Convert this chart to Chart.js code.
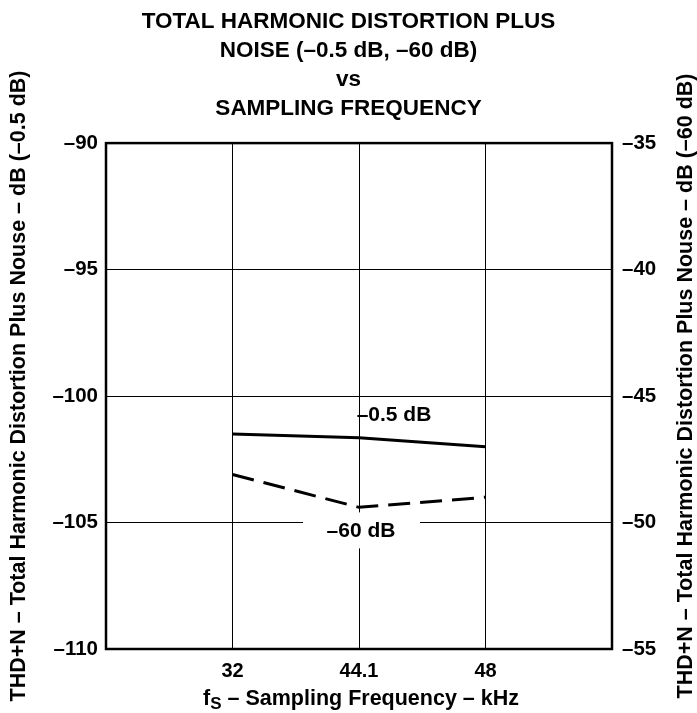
<!DOCTYPE html>
<html lang="en">
<head>
    <meta charset="UTF-8">
    <title>THD+N vs Sampling Frequency</title>
    <script src="https://cdn.jsdelivr.net/npm/chart.js"></script>
    <style>
        body {
            margin: 0;
            background: #ffffff;
        }
        #wrap {
            width: 697px;
            height: 713px;
        }
    </style>
</head>
<body>
    <div id="wrap">
        <canvas id="thdChart" width="697" height="713"></canvas>
    </div>

    <script>
        // sampling frequencies (kHz), drawn at equal spacing
        const freqs = ['32', '44.1', '48'];
        // -0.5 dB signal, left axis
        const thdHigh = [-101.5, -101.65, -102.0];
        // -60 dB signal, right axis
        const thdLow = [-48.1, -49.4, -49.0];

        const leftTicks = [-90, -95, -100, -105, -110];
        const rightTicks = [-35, -40, -45, -50, -55];

        const FONT = '"Liberation Sans", Arial, Helvetica, sans-serif';

        // blank slots at both ends give the empty margins left/right of the data
        const labels = ['', ...freqs, ''];
        const pad = arr => [null, ...arr, null];

        // frame, axis titles and curve labels
        const decorations = {
            id: 'decorations',
            afterDatasetsDraw(chart) {
                const { ctx, chartArea: a, scales } = chart;
                const x = scales.x, y = scales.y, y2 = scales.y2;
                ctx.save();

                // label for the -60 dB curve sits on a white patch over the grid
                const lx = x.getPixelForValue(2);
                const ly = y2.getPixelForValue(-50.35);
                ctx.fillStyle = '#fff';
                ctx.fillRect(lx - 56, ly - 19, 117, 36);

                ctx.fillStyle = '#000';
                ctx.font = 'bold 21px ' + FONT;
                ctx.textAlign = 'center';
                ctx.textBaseline = 'middle';
                ctx.fillText('\u20130.5 dB', x.getPixelForValue(2) + 35, y.getPixelForValue(-100.75));
                ctx.fillText('\u201360 dB', lx + 2, ly);

                // heavy frame
                ctx.strokeStyle = '#000';
                ctx.lineWidth = 2.5;
                ctx.strokeRect(a.left, a.top, a.right - a.left, a.bottom - a.top);

                // vertical axis titles, both read bottom to top
                ctx.font = 'bold 21.5px ' + FONT;
                const cy = 386;
                [[19, 'THD+N \u2013 Total Harmonic Distortion Plus Nouse \u2013 dB (\u20130.5 dB)'],
                 [686, 'THD+N \u2013 Total Harmonic Distortion Plus Nouse \u2013 dB (\u201360 dB)']].forEach(([tx, txt]) => {
                    ctx.save();
                    ctx.translate(tx, cy);
                    ctx.rotate(-Math.PI / 2);
                    ctx.fillText(txt, 0, 0);
                    ctx.restore();
                });

                // x title with subscript S
                const big = 'bold 21.5px ' + FONT, small = 'bold 17px ' + FONT;
                const rest = ' \u2013 Sampling Frequency \u2013 kHz';
                ctx.font = big;
                const wf = ctx.measureText('f').width;
                const wr = ctx.measureText(rest).width;
                ctx.font = small;
                const ws = ctx.measureText('S').width;
                let sx = 361 - (wf + ws + wr) / 2;
                const sy = 699;
                ctx.textAlign = 'left';
                ctx.font = big;
                ctx.fillText('f', sx, sy);
                ctx.font = small;
                ctx.fillText('S', sx + wf, sy + 5);
                ctx.font = big;
                ctx.fillText(rest, sx + wf + ws, sy);

                ctx.restore();
            }
        };

        new Chart(document.getElementById('thdChart'), {
            type: 'line',
            data: {
                labels: labels,
                datasets: [{
                    label: '-0.5 dB',
                    data: pad(thdHigh),
                    yAxisID: 'y',
                    borderColor: '#000',
                    borderWidth: 3,
                    pointRadius: 0,
                    tension: 0,
                    fill: false
                }, {
                    label: '-60 dB',
                    data: pad(thdLow),
                    yAxisID: 'y2',
                    borderColor: '#000',
                    borderWidth: 3,
                    borderDash: [22, 10],
                    pointRadius: 0,
                    tension: 0,
                    fill: false
                }]
            },
            options: {
                responsive: false,
                animation: false,
                layout: { padding: 0 },
                plugins: {
                    legend: { display: false },
                    tooltip: { enabled: false },
                    title: {
                        display: true,
                        text: ['TOTAL HARMONIC DISTORTION PLUS', 'NOISE (\u20130.5 dB, \u201360 dB)', 'vs', 'SAMPLING FREQUENCY'],
                        color: '#000',
                        font: { family: FONT, size: 22.5, weight: 'bold', lineHeight: 1.29 },
                        padding: { top: 7, bottom: 20 }
                    }
                },
                scales: {
                    x: {
                        type: 'category',
                        offset: false,
                        grid: { color: '#000', lineWidth: 1, drawTicks: false },
                        border: { display: false },
                        ticks: {
                            color: '#000',
                            font: { family: FONT, size: 20, weight: 'bold' },
                            padding: 10,
                            maxRotation: 0,
                            autoSkip: false
                        },
                        afterFit: s => { s.height = 64; }
                    },
                    y: {
                        position: 'left',
                        min: -110,
                        max: -90,
                        afterBuildTicks: s => { s.ticks = leftTicks.map(v => ({ value: v })); },
                        grid: { color: '#000', lineWidth: 1, drawTicks: false },
                        border: { display: false },
                        ticks: {
                            color: '#000',
                            font: { family: FONT, size: 20.5, weight: 'bold' },
                            padding: 8,
                            callback: v => '\u2013' + Math.abs(v)
                        },
                        afterFit: s => { s.width = 106; }
                    },
                    y2: {
                        position: 'right',
                        min: -55,
                        max: -35,
                        afterBuildTicks: s => { s.ticks = rightTicks.map(v => ({ value: v })); },
                        grid: { display: false, drawTicks: false },
                        border: { display: false },
                        ticks: {
                            color: '#000',
                            font: { family: FONT, size: 20.5, weight: 'bold' },
                            padding: 10,
                            callback: v => '\u2013' + Math.abs(v)
                        },
                        afterFit: s => { s.width = 85; }
                    }
                }
            },
            plugins: [decorations]
        });
    </script>
</body>
</html>
